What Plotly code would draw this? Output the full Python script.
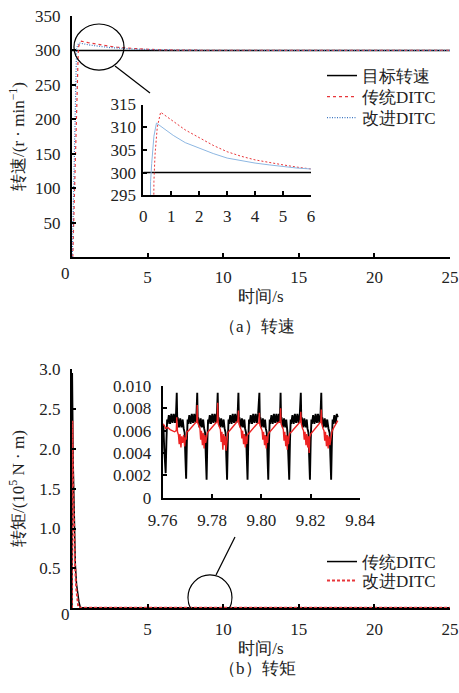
import plotly.graph_objects as go

W, H = 459, 693
FONT = "'Liberation Serif', 'Times New Roman', serif"

# ---------------- (a) speed data ----------------
target_t = [0, 25]
target_v = [300, 300]

trad_speed_t = [0.05, 0.38, 0.42, 0.50, 0.62, 1.07, 1.5, 2.0, 2.5, 3.0, 3.5, 4.0, 4.5, 5.0, 5.5, 6.0, 8.0, 12.0, 25.0]
trad_speed_v = [0, 298, 304, 310, 313.3, 311.3, 309.4, 307.7, 306.0, 304.6, 303.6, 302.8, 302.2, 301.7, 301.2, 300.8, 300.3, 300.05, 300]

impr_speed_t = [0.02, 0.26, 0.30, 0.38, 0.47, 1.07, 1.5, 2.0, 2.5, 3.0, 3.5, 4.0, 4.5, 5.0, 5.5, 6.0, 8.0, 12.0, 25.0]
impr_speed_v = [0, 298, 302, 308, 310.9, 308.2, 306.6, 305.4, 304.2, 303.2, 302.6, 302.1, 301.7, 301.3, 301.0, 300.8, 300.3, 300.05, 300]

# ---------------- (b) torque data ----------------
trad_torque_t = [0.0, 0.02, 0.08, 0.15, 0.22, 0.30, 0.38, 0.46, 0.55, 1.0, 25.0]
trad_torque_v = [0.0, 2.95, 1.8, 1.0, 0.55, 0.30, 0.18, 0.08, 0.01, 0.007, 0.007]

impr_torque_t = [0.0, 0.03, 0.08, 0.13, 0.20, 0.28, 0.35, 0.42, 1.0, 25.0]
impr_torque_v = [0.0, 2.35, 1.5, 1.0, 0.55, 0.25, 0.08, 0.01, 0.006, 0.006]

# zoomed torque (9.76 s .. 9.831 s)
trad_zoom_t = [
    9.7600, 9.7603, 9.7606, 9.7609, 9.7612, 9.7615, 9.7618,
    9.7620, 9.7625, 9.7630, 9.7635, 9.7640, 9.7645, 9.7650, 9.7654, 9.7657, 9.7659,
    9.7661, 9.7666, 9.7671, 9.7676, 9.7681, 9.7685, 9.7689, 9.7692, 9.7695,
    9.7698, 9.7701, 9.7703, 9.7708, 9.7713, 9.7718, 9.7723, 9.7728, 9.7733, 9.7737, 9.7740, 9.7742,
    9.7744, 9.7749, 9.7754, 9.7759, 9.7764, 9.7768, 9.7772, 9.7775, 9.7778,
    9.7781, 9.7784, 9.7786, 9.7791, 9.7796, 9.7801, 9.7806, 9.7811, 9.7816, 9.7820, 9.7823, 9.7825,
    9.7827, 9.7832, 9.7837, 9.7842, 9.7847, 9.7851, 9.7855, 9.7858, 9.7861,
    9.7864, 9.7867, 9.7869, 9.7874, 9.7879, 9.7884, 9.7889, 9.7894, 9.7899, 9.7904, 9.7907, 9.7909,
    9.7911, 9.7916, 9.7921, 9.7926, 9.7931, 9.7934, 9.7938, 9.7941, 9.7944,
    9.7947, 9.7950, 9.7952, 9.7957, 9.7962, 9.7967, 9.7972, 9.7977, 9.7982, 9.7987, 9.7992, 9.7994,
    9.7996, 9.8001, 9.8006, 9.8011, 9.8015, 9.8018, 9.8022, 9.8025, 9.8028,
    9.8031, 9.8034, 9.8036, 9.8041, 9.8046, 9.8051, 9.8056, 9.8061, 9.8066, 9.8071, 9.8075, 9.8078, 9.8080,
    9.8082, 9.8087, 9.8092, 9.8097, 9.8101, 9.8106, 9.8109, 9.8113,
    9.8116, 9.8119, 9.8121, 9.8126, 9.8131, 9.8136, 9.8141, 9.8146, 9.8151, 9.8156, 9.8160, 9.8162,
    9.8164, 9.8169, 9.8174, 9.8179, 9.8184, 9.8187, 9.8191, 9.8194, 9.8197,
    9.8200, 9.8203, 9.8205, 9.8210, 9.8215, 9.8220, 9.8225, 9.8230, 9.8235, 9.8240, 9.8243, 9.8245,
    9.8247, 9.8252, 9.8257, 9.8262, 9.8267, 9.8272, 9.8277, 9.8280, 9.8283,
    9.8286, 9.8289, 9.8291, 9.8296, 9.8301, 9.8306, 9.8310,
]
trad_zoom_v = [
    0.0066, 0.0064, 0.0045, 0.0030, 0.0022, 0.0050, 0.0070,
    0.0066, 0.0074, 0.0066, 0.0075, 0.0067, 0.0075, 0.0067, 0.0075, 0.0094, 0.0069,
    0.0072, 0.0063, 0.0071, 0.0063, 0.0070, 0.0062, 0.0058, 0.0036, 0.0017,
    0.0050, 0.0070, 0.0066, 0.0074, 0.0066, 0.0075, 0.0067, 0.0075, 0.0067, 0.0075, 0.0094, 0.0069,
    0.0072, 0.0063, 0.0071, 0.0063, 0.0070, 0.0062, 0.0058, 0.0036, 0.0016,
    0.0050, 0.0070, 0.0066, 0.0074, 0.0066, 0.0075, 0.0067, 0.0075, 0.0067, 0.0075, 0.0094, 0.0069,
    0.0072, 0.0063, 0.0071, 0.0063, 0.0070, 0.0062, 0.0058, 0.0036, 0.0016,
    0.0050, 0.0070, 0.0066, 0.0074, 0.0066, 0.0075, 0.0067, 0.0075, 0.0067, 0.0075, 0.0094, 0.0069,
    0.0072, 0.0063, 0.0071, 0.0063, 0.0070, 0.0062, 0.0058, 0.0036, 0.0016,
    0.0050, 0.0070, 0.0066, 0.0074, 0.0066, 0.0075, 0.0067, 0.0075, 0.0067, 0.0075, 0.0094, 0.0069,
    0.0072, 0.0063, 0.0071, 0.0063, 0.0070, 0.0062, 0.0058, 0.0036, 0.0016,
    0.0050, 0.0070, 0.0066, 0.0074, 0.0066, 0.0075, 0.0067, 0.0075, 0.0067, 0.0075, 0.0067, 0.0094, 0.0069,
    0.0072, 0.0063, 0.0071, 0.0063, 0.0070, 0.0058, 0.0036, 0.0016,
    0.0050, 0.0070, 0.0066, 0.0074, 0.0066, 0.0075, 0.0067, 0.0075, 0.0067, 0.0075, 0.0094, 0.0069,
    0.0072, 0.0063, 0.0071, 0.0063, 0.0070, 0.0062, 0.0058, 0.0036, 0.0016,
    0.0050, 0.0070, 0.0066, 0.0074, 0.0066, 0.0075, 0.0067, 0.0075, 0.0067, 0.0075, 0.0094, 0.0069,
    0.0072, 0.0063, 0.0071, 0.0063, 0.0070, 0.0062, 0.0058, 0.0036, 0.0016,
    0.0050, 0.0070, 0.0066, 0.0074, 0.0066, 0.0075, 0.0072,
]

impr_zoom_t = [
    9.7600, 9.7606, 9.7612, 9.7620, 9.7630, 9.7640, 9.7648, 9.7655, 9.7657, 9.7660,
    9.7664, 9.7667, 9.7670, 9.7674, 9.7677, 9.7681, 9.7685, 9.7689, 9.7692, 9.7695,
    9.7698, 9.7705, 9.7712, 9.7719, 9.7726, 9.7733, 9.7738, 9.7740, 9.7742, 9.7747,
    9.7751, 9.7754, 9.7757, 9.7761, 9.7764, 9.7768, 9.7771, 9.7774, 9.7777,
    9.7781, 9.7788, 9.7795, 9.7802, 9.7809, 9.7816, 9.7821, 9.7823, 9.7825, 9.7830,
    9.7834, 9.7837, 9.7840, 9.7844, 9.7847, 9.7851, 9.7854, 9.7857, 9.7860,
    9.7864, 9.7871, 9.7878, 9.7885, 9.7892, 9.7899, 9.7905, 9.7907, 9.7909, 9.7914,
    9.7918, 9.7921, 9.7924, 9.7928, 9.7931, 9.7935, 9.7938, 9.7941, 9.7943,
    9.7947, 9.7954, 9.7961, 9.7968, 9.7975, 9.7982, 9.7990, 9.7992, 9.7994, 9.7999,
    9.8003, 9.8006, 9.8009, 9.8013, 9.8016, 9.8020, 9.8022, 9.8025, 9.8027,
    9.8031, 9.8038, 9.8045, 9.8052, 9.8059, 9.8066, 9.8076, 9.8078, 9.8080, 9.8085,
    9.8089, 9.8092, 9.8095, 9.8099, 9.8102, 9.8105, 9.8107, 9.8110, 9.8112,
    9.8116, 9.8123, 9.8130, 9.8137, 9.8144, 9.8151, 9.8158, 9.8160, 9.8162, 9.8167,
    9.8171, 9.8174, 9.8177, 9.8181, 9.8184, 9.8188, 9.8191, 9.8194, 9.8196,
    9.8200, 9.8207, 9.8214, 9.8221, 9.8228, 9.8235, 9.8241, 9.8243, 9.8245, 9.8250,
    9.8254, 9.8257, 9.8260, 9.8264, 9.8267, 9.8271, 9.8274, 9.8278, 9.8282,
    9.8286, 9.8292, 9.8298, 9.8304, 9.8310,
]
impr_zoom_v = [
    0.0066, 0.0065, 0.0062, 0.0063, 0.0061, 0.0060, 0.0059, 0.0060, 0.0072, 0.0059,
    0.0056, 0.0048, 0.0057, 0.0045, 0.0055, 0.0049, 0.0056, 0.0046, 0.0054, 0.0052,
    0.0059, 0.0060, 0.0062, 0.0064, 0.0065, 0.0067, 0.0068, 0.0083, 0.0067, 0.0064,
    0.0062, 0.0052, 0.0060, 0.0047, 0.0058, 0.0044, 0.0056, 0.0049, 0.0055,
    0.0058, 0.0060, 0.0062, 0.0064, 0.0066, 0.0067, 0.0068, 0.0085, 0.0066, 0.0063,
    0.0061, 0.0050, 0.0059, 0.0043, 0.0057, 0.0047, 0.0055, 0.0042, 0.0054,
    0.0058, 0.0060, 0.0062, 0.0064, 0.0066, 0.0067, 0.0069, 0.0078, 0.0066, 0.0063,
    0.0061, 0.0053, 0.0060, 0.0048, 0.0057, 0.0045, 0.0055, 0.0048, 0.0056,
    0.0057, 0.0059, 0.0061, 0.0063, 0.0065, 0.0066, 0.0067, 0.0076, 0.0065, 0.0062,
    0.0060, 0.0052, 0.0059, 0.0047, 0.0056, 0.0044, 0.0055, 0.0049, 0.0056,
    0.0058, 0.0060, 0.0062, 0.0064, 0.0066, 0.0067, 0.0068, 0.0080, 0.0066, 0.0063,
    0.0061, 0.0051, 0.0059, 0.0046, 0.0056, 0.0043, 0.0055, 0.0048, 0.0055,
    0.0058, 0.0059, 0.0061, 0.0063, 0.0065, 0.0066, 0.0068, 0.0077, 0.0066, 0.0062,
    0.0060, 0.0052, 0.0059, 0.0047, 0.0057, 0.0045, 0.0055, 0.0040, 0.0054,
    0.0057, 0.0059, 0.0061, 0.0063, 0.0065, 0.0067, 0.0068, 0.0079, 0.0066, 0.0062,
    0.0060, 0.0051, 0.0059, 0.0046, 0.0056, 0.0044, 0.0055, 0.0047, 0.0055,
    0.0059, 0.0062, 0.0064, 0.0066, 0.0069,
]

# tick labels
main_x_ticks = [5, 10, 15, 20, 25]
speed_y_ticks = [50, 100, 150, 200, 250, 300, 350]
speed_inset_x_ticks = [0, 1, 2, 3, 4, 5, 6]
speed_inset_y_ticks = [295, 300, 305, 310, 315]
torque_y_ticks = [0.5, 1.0, 1.5, 2.0, 2.5, 3.0]
torque_y_labels = ["0.5", "1.0", "1.5", "2.0", "2.5", "3.0"]
torque_inset_x_ticks = [9.76, 9.78, 9.80, 9.82, 9.84]
torque_inset_x_labels = ["9.76", "9.78", "9.80", "9.82", "9.84"]
torque_inset_y_ticks = [0, 0.002, 0.004, 0.006, 0.008, 0.010]
torque_inset_y_labels = ["0", "0.002", "0.004", "0.006", "0.008", "0.010"]

RED = "#e8363a"
BLUE = "#3f78c2"
BLUE_LIGHT = "#8db7e2"
TXT = "#222"
FS = 17


def xd(a, b):
    return [a / W, b / W]


def yd(top, bottom):
    return [1 - bottom / H, 1 - top / H]


fig = go.Figure()

# (a) main
fig.add_trace(go.Scatter(x=target_t, y=target_v, mode="lines", name="目标转速",
                         line=dict(color="black", width=1.5), xaxis="x", yaxis="y", legend="legend"))
fig.add_trace(go.Scatter(x=trad_speed_t, y=trad_speed_v, mode="lines", name="传统DITC",
                         line=dict(color=RED, width=1.2, dash="3px,3px"), xaxis="x", yaxis="y", legend="legend2"))
fig.add_trace(go.Scatter(x=impr_speed_t, y=impr_speed_v, mode="lines", name="改进DITC",
                         line=dict(color=BLUE, width=1.2, dash="1px,1.5px"), xaxis="x", yaxis="y", legend="legend3"))
# (a) inset
fig.add_trace(go.Scatter(x=target_t, y=target_v, mode="lines", showlegend=False,
                         line=dict(color="black", width=1.5), xaxis="x2", yaxis="y2"))
fig.add_trace(go.Scatter(x=trad_speed_t, y=trad_speed_v, mode="lines", showlegend=False,
                         line=dict(color=RED, width=1, dash="2px,2px"), xaxis="x2", yaxis="y2"))
fig.add_trace(go.Scatter(x=impr_speed_t, y=impr_speed_v, mode="lines", showlegend=False,
                         line=dict(color=BLUE_LIGHT, width=1), xaxis="x2", yaxis="y2"))
# (b) main
fig.add_trace(go.Scatter(x=trad_torque_t, y=trad_torque_v, mode="lines", name="传统DITC",
                         line=dict(color="black", width=1.5), xaxis="x3", yaxis="y3", legend="legend4"))
fig.add_trace(go.Scatter(x=impr_torque_t, y=impr_torque_v, mode="lines", name="改进DITC",
                         line=dict(color=RED, width=2, dash="3px,2px"), xaxis="x3", yaxis="y3", legend="legend5"))
# (b) inset
fig.add_trace(go.Scatter(x=trad_zoom_t, y=trad_zoom_v, mode="lines", showlegend=False,
                         line=dict(color="black", width=1.9), xaxis="x4", yaxis="y4"))
fig.add_trace(go.Scatter(x=impr_zoom_t, y=impr_zoom_v, mode="lines", showlegend=False,
                         line=dict(color="#ee2222", width=1.4), xaxis="x4", yaxis="y4"))

tickfont = dict(family=FONT, size=FS, color=TXT)
axis_common = dict(showline=True, linecolor="black", linewidth=2, ticks="inside", ticklen=4,
                   tickwidth=1.5, tickcolor="black", showgrid=False, zeroline=False,
                   tickfont=tickfont, automargin=False)
title_font = dict(family=FONT, size=FS, color=TXT)


def leg(px, py):
    return dict(x=px / W, y=1 - py / H, xanchor="left", yanchor="middle", bgcolor="rgba(0,0,0,0)",
                font=dict(family=FONT, size=FS, color=TXT), borderwidth=0)


fig.update_layout(
    width=W, height=H,
    margin=dict(l=0, r=0, t=0, b=0, autoexpand=False),
    paper_bgcolor="white", plot_bgcolor="rgba(0,0,0,0)",
    font=dict(family=FONT, size=FS, color=TXT),
    xaxis=dict(domain=xd(72, 450), range=[0, 25], tickvals=main_x_ticks, anchor="y", ticklabelstandoff=4,
               title=dict(text="时间/s", standoff=4, font=title_font), **axis_common),
    yaxis=dict(domain=yd(16, 257), range=[0, 350], tickvals=speed_y_ticks, anchor="x", ticklabelstandoff=6,
               title=dict(text="转速/(r · min<sup>−1</sup>)", standoff=6, font=title_font), **axis_common),
    xaxis2=dict(domain=xd(143.3, 311), range=[0, 6], tickvals=speed_inset_x_ticks, anchor="y2",
                ticklabelstandoff=4, **axis_common),
    yaxis2=dict(domain=yd(104.5, 195.3), range=[295, 315], tickvals=speed_inset_y_ticks, anchor="x2",
                ticklabelstandoff=2, **axis_common),
    xaxis3=dict(domain=xd(72, 450), range=[0, 25], tickvals=main_x_ticks, anchor="y3", ticklabelstandoff=4,
                title=dict(text="时间/s", standoff=4, font=title_font), **axis_common),
    yaxis3=dict(domain=yd(369, 608.3), range=[0, 3.0], tickvals=torque_y_ticks, ticktext=torque_y_labels,
                anchor="x3", ticklabelstandoff=6,
                title=dict(text="转矩/(10<sup>5</sup> N · m)", standoff=10, font=title_font), **axis_common),
    xaxis4=dict(domain=xd(162.7, 360), range=[9.76, 9.84], tickvals=torque_inset_x_ticks,
                ticktext=torque_inset_x_labels, anchor="y4", ticklabelstandoff=6, **axis_common),
    yaxis4=dict(domain=yd(386, 497.7), range=[0, 0.010], tickvals=torque_inset_y_ticks,
                ticktext=torque_inset_y_labels, anchor="x4", ticklabelstandoff=6, **axis_common),
    legend=leg(322, 76),
    legend2=leg(322, 97),
    legend3=leg(322, 118),
    legend4=leg(322, 562),
    legend5=leg(322, 581),
    showlegend=True,
)

# zoom circles and leader lines
fig.add_shape(type="circle", xref="x", yref="y", x0=0.13, x1=3.44, y0=271.5, y1=338.4,
              line=dict(color="black", width=1.2))
fig.add_shape(type="line", xref="paper", yref="paper", x0=115 / W, y0=1 - 66 / H, x1=150 / W, y1=1 - 93 / H,
              line=dict(color="black", width=1.2))
fig.add_shape(type="circle", xref="x3", yref="y3", x0=7.67, x1=10.58, y0=-0.147, y1=0.418,
              line=dict(color="black", width=1.2))
fig.add_shape(type="line", xref="paper", yref="paper", x0=216 / W, y0=1 - 575 / H, x1=235 / W, y1=1 - 537 / H,
              line=dict(color="black", width=1.2))

# shared origin labels and captions
for yy in (273, 626):
    fig.add_annotation(x=59 / W, y=1 - yy / H, xref="paper", yref="paper", text="0", showarrow=False,
                       font=dict(family=FONT, size=FS, color=TXT))
fig.add_annotation(x=257 / W, y=1 - 326 / H, xref="paper", yref="paper", text="（a）转速", showarrow=False,
                   font=dict(family=FONT, size=FS, color=TXT))
fig.add_annotation(x=257 / W, y=1 - 680 / H, xref="paper", yref="paper", text="（b）转矩", showarrow=False,
                   font=dict(family=FONT, size=FS, color=TXT))

fig.write_html("out.html", config={"displayModeBar": False},
               post_script="document.body.style.margin='0px';")
